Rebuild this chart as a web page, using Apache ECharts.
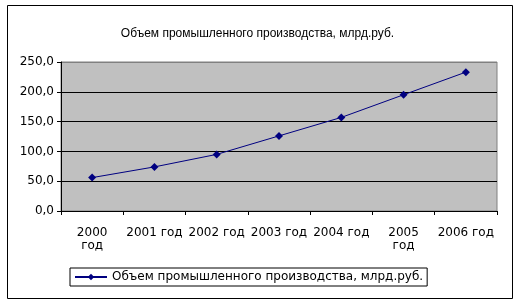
<!DOCTYPE html>
<html>
<head>
<meta charset="utf-8">
<script src="https://cdn.jsdelivr.net/npm/echarts@6/dist/echarts.min.js"></script>
<style>html,body{margin:0;padding:0;background:#fff;}#c{width:515px;height:302px;}</style>
</head>
<body>
<div id="c"></div>
<script>
var titleText = 'Объем промышленного производства, млрд.руб.';
var seriesName = 'Объем промышленного производства, млрд.руб.';
var categories = ['2000 год', '2001 год', '2002 год', '2003 год', '2004 год', '2005 год', '2006 год'];
var tickLabels = ['2000\nгод', '2001 год', '2002 год', '2003 год', '2004 год', '2005\nгод', '2006 год'];
var values = [56, 74, 95, 126, 157, 195, 233];

var font = 'DejaVu Sans';
var chart = echarts.init(document.getElementById('c'), null, {renderer: 'canvas'});
chart.setOption({
  animation: false,
  backgroundColor: '#fff',
  textStyle: {fontFamily: font},
  graphic: [{
    type: 'rect', left: 5, top: 3, z: 100,
    shape: {width: 505, height: 293},
    style: {fill: 'none', stroke: '#000', lineWidth: 1}
  }],
  title: {
    text: titleText, left: 'center', top: 23,
    textStyle: {fontFamily: 'Liberation Sans', fontSize: 12, fontWeight: 'normal', color: '#000'}
  },
  legend: {
    left: 70, top: 268,
    borderColor: '#000', borderWidth: 1, padding: [3, 4, 3, 4],
    itemWidth: 32, itemHeight: 8,
    textStyle: {fontFamily: font, fontSize: 12, color: '#000'},
    data: [{name: seriesName}]
  },
  grid: {
    left: 61, right: 18, top: 62, bottom: 91,
    show: true, backgroundColor: '#c0c0c0', borderColor: '#808080', borderWidth: 1
  },
  xAxis: {
    type: 'category', data: categories, boundaryGap: true,
    axisLine: {lineStyle: {color: '#000', width: 1}},
    axisTick: {show: true, length: 4, inside: false, lineStyle: {color: '#000'}},
    axisLabel: {
      interval: 0, margin: 15, fontFamily: font, fontSize: 12, color: '#000', lineHeight: 13,
      formatter: function (v, i) { return tickLabels[i]; }
    }
  },
  yAxis: {
    type: 'value', min: 0, max: 250, interval: 50,
    axisLine: {show: true, lineStyle: {color: '#000', width: 1}},
    axisTick: {show: true, length: 4, lineStyle: {color: '#000'}},
    axisLabel: {
      margin: 7, fontFamily: font, fontSize: 12, color: '#000',
      formatter: function (v) { return v.toFixed(1).replace('.', ','); }
    },
    splitLine: {show: true, lineStyle: {color: ['#000', '#000', '#000', '#000', '#000', '#808080'], width: 1}}
  },
  series: [{
    name: seriesName, type: 'line', data: values,
    symbol: 'diamond', symbolSize: 8, showSymbol: true,
    lineStyle: {color: '#000080', width: 1},
    itemStyle: {color: '#000080'}
  }]
});
</script>
</body>
</html>
